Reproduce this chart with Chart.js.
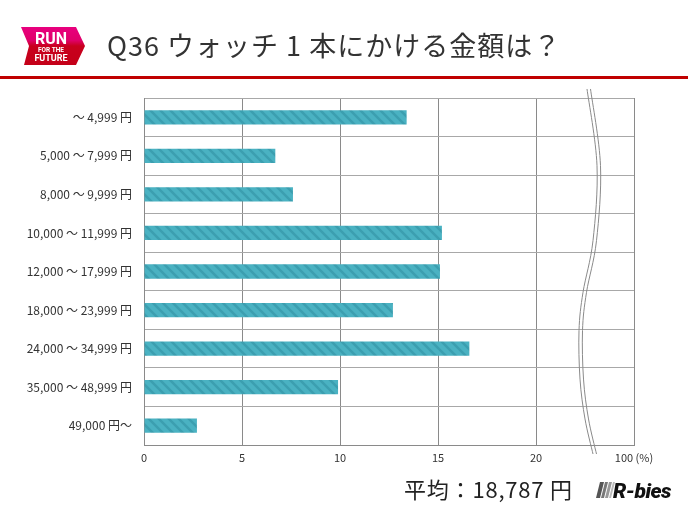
<!DOCTYPE html>
<html><head><meta charset="utf-8">
<script src="https://cdn.jsdelivr.net/npm/chart.js@4"></script>
<style>
html,body{margin:0;padding:0;background:#fff;}
#wrap{position:relative;width:688px;height:516px;overflow:hidden;font-family:"Noto Sans CJK JP","Noto Sans",sans-serif;}
#c{position:absolute;left:0;top:0;}
#title{position:absolute;left:107px;top:29px;font-size:27px;line-height:32px;color:#333;white-space:nowrap;letter-spacing:1px;}
#redline{position:absolute;left:0;top:76px;width:688px;height:3px;background:#C00000;}
#avg{position:absolute;left:404px;top:474px;font-size:22px;line-height:28px;color:#222;white-space:nowrap;letter-spacing:0.8px;}
#logo{position:absolute;left:18px;top:25px;}
#rb{position:absolute;left:594px;top:478px;}
</style></head>
<body>
<div id="wrap">
<canvas id="c" width="688" height="516"></canvas>
<svg id="logo" width="70" height="44" viewBox="18 25 70 44">
<defs><linearGradient id="lg" x1="0" y1="0" x2="0" y2="1">
<stop offset="0" stop-color="#E8007E"/><stop offset="0.35" stop-color="#E0006A"/><stop offset="0.5" stop-color="#C8001E"/><stop offset="1" stop-color="#C40018"/></linearGradient></defs>
<polygon points="21,27 76,27 85,46 76,65 24,65 29,46" fill="url(#lg)"/>
<text x="51" y="44" font-family="Roboto,Arial,sans-serif" font-weight="bold" font-size="16" fill="#fff" text-anchor="middle">RUN</text>
<text x="51" y="52" font-family="Roboto,Arial,sans-serif" font-weight="bold" font-size="6.5" fill="#fff" text-anchor="middle">FOR THE</text>
<text x="51" y="61" font-family="Roboto,Arial,sans-serif" font-weight="bold" font-size="9" fill="#fff" text-anchor="middle">FUTURE</text>
</svg>
<div id="title">Q36 ウォッチ 1 本にかける金額は？</div>
<div id="redline"></div>
<div id="avg">平均：18,787 円</div>
<svg id="rb" width="80" height="26" viewBox="594 478 80 26">
<polygon points="600,482 604,482 600,498 596,498" fill="#555"/>
<polygon points="605,482 608,482 604,498 601,498" fill="#777"/>
<polygon points="609,482 612,482 608,498 605,498" fill="#999"/>
<polygon points="613,482 615,482 611,498 609,498" fill="#bbb"/>
<text x="613" y="498" font-family="Roboto,'Liberation Sans',sans-serif" font-weight="900" font-style="italic" font-size="21" fill="#111" letter-spacing="-0.5">R-bies</text>
</svg>
</div>
<script>
const categories = ["～ 4,999 円","5,000 ～ 7,999 円","8,000 ～ 9,999 円","10,000 ～ 11,999 円","12,000 ～ 17,999 円","18,000 ～ 23,999 円","24,000 ～ 34,999 円","35,000 ～ 48,999 円","49,000 円～"];
const values = [13.4, 6.7, 7.6, 15.2, 15.1, 12.7, 16.6, 9.9, 2.7];
const tickValues = [0, 5, 10, 15, 20, 25];
const tickLabels = ["0", "5", "10", "15", "20", "100 (%)"];

function makePattern(){
  const p = document.createElement('canvas');
  p.width = 10; p.height = 10;
  const g = p.getContext('2d');
  g.fillStyle = '#4AB2C2';
  g.fillRect(0,0,10,10);
  g.strokeStyle = '#3C9FB0';
  g.lineWidth = 2.5;
  g.beginPath();
  g.moveTo(-5,-5); g.lineTo(15,15);
  g.moveTo(-5,5); g.lineTo(5,15);
  g.moveTo(5,-5); g.lineTo(15,5);
  g.stroke();
  return document.getElementById('c').getContext('2d').createPattern(p,'repeat');
}

const breakPlugin = {
  id:'breakMark',
  afterDraw(chart){
    const {ctx, chartArea, scales} = chart;
    const xs = scales.x;
    const base = (xs.getPixelForValue(20) + xs.getPixelForValue(25))/2;
    const h = chartArea.bottom - chartArea.top;
    const shape = [[2,-0.026],[12,0.195],[8,0.411],[-2,0.56],[-6,0.67],[-5,0.81],[0,0.925],[8,1.026]];
    ctx.save();
    ctx.strokeStyle = '#8a8a8a';
    ctx.lineWidth = 1;
    [0,3.5].forEach(off=>{
      const pts = shape.map(s=>[base+s[0]+off, chartArea.top + s[1]*h]);
      ctx.beginPath();
      ctx.moveTo(pts[0][0], pts[0][1]);
      for(let i=0;i<pts.length-1;i++){
        const p0 = pts[Math.max(0,i-1)], p1 = pts[i], p2 = pts[i+1], p3 = pts[Math.min(pts.length-1,i+2)];
        const c1 = [p1[0]+(p2[0]-p0[0])/6, p1[1]+(p2[1]-p0[1])/6];
        const c2 = [p2[0]-(p3[0]-p1[0])/6, p2[1]-(p3[1]-p1[1])/6];
        ctx.bezierCurveTo(c1[0],c1[1],c2[0],c2[1],p2[0],p2[1]);
      }
      ctx.stroke();
    });
    ctx.restore();
  }
};

new Chart(document.getElementById('c'), {
  type:'bar',
  data:{labels:categories, datasets:[{data:values, backgroundColor:makePattern(), borderWidth:0, barPercentage:0.37, categoryPercentage:1}]},
  options:{
    indexAxis:'y',
    responsive:false, animation:false,
    layout:{padding:{left:0,right:54,top:98,bottom:41}},
    plugins:{legend:{display:false}, tooltip:{enabled:false}},
    scales:{
      x:{min:0,max:25,
        afterBuildTicks(s){ s.ticks = tickValues.map(v=>({value:v})); },
        afterFit(s){ s.height = 30; },
        ticks:{callback:(v,i)=>tickLabels[i], color:'#333', font:{family:'"Noto Sans CJK JP", sans-serif', size:11}, padding:6, maxRotation:0},
        grid:{color:'#8a8a8a', lineWidth:1, tickLength:0},
        border:{color:'#8a8a8a'}
      },
      y:{
        afterFit(s){ s.width = 144; },
        ticks:{color:'#333', font:{family:'"Noto Sans CJK JP", sans-serif', size:12}, padding:12},
        grid:{color:'#a8a8a8', lineWidth:1, tickLength:0, offset:true},
        border:{color:'#8a8a8a'}
      }
    }
  },
  plugins:[breakPlugin]
});
</script>
</body></html>
